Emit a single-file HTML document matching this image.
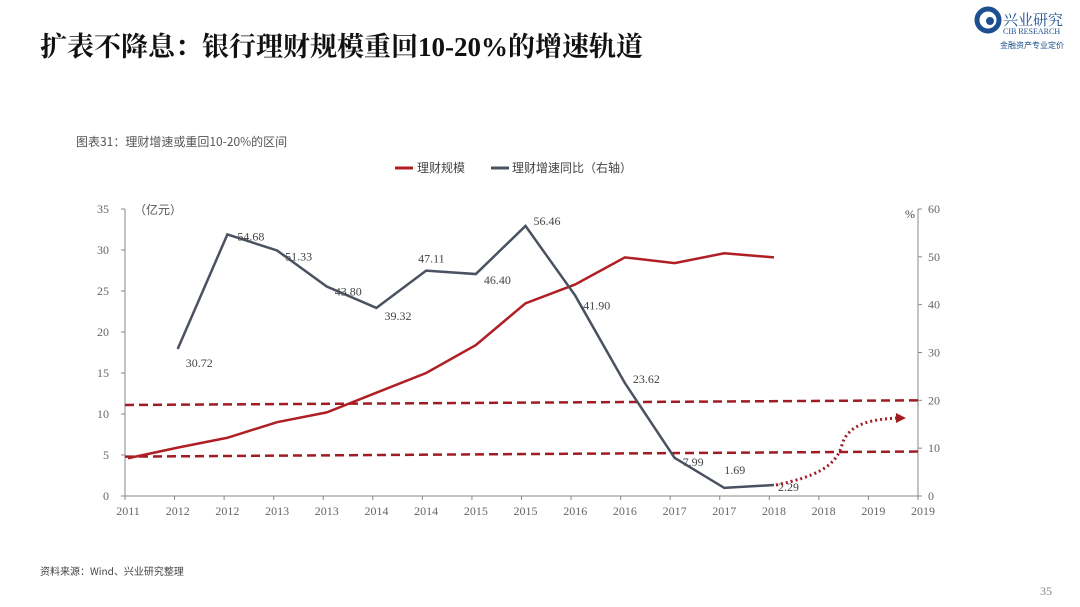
<!DOCTYPE html>
<html><head><meta charset="utf-8"><style>
body{margin:0;width:1080px;height:607px;background:#fff;overflow:hidden;font-family:"Liberation Serif","Noto Serif CJK SC",serif;}
svg{position:absolute;left:0;top:0}
</style></head><body>
<svg id="c" width="1080" height="607">
<text x="40" y="56" font-size="27" font-weight="bold" fill="#111" font-family="'Liberation Serif','Noto Serif CJK SC',serif">扩表不降息：银行理财规模重回10-20%的增速轨道</text>
<g>
<circle cx="988" cy="20" r="11" fill="none" stroke="#1b4f8f" stroke-width="5"/>
<circle cx="990" cy="21" r="4" fill="#1b4f8f"/>
<text x="1003" y="25" font-size="15" fill="#1b4f8f" font-family="'Noto Serif CJK SC',serif">兴业研究</text>
<text x="1003" y="34" font-size="8" fill="#1b4f8f">CIB RESEARCH</text>
<text x="1000" y="48" font-size="8" fill="#1b4f8f" font-family="'Noto Sans CJK SC',sans-serif">金融资产专业定价</text>
</g>
<text x="76" y="146" font-size="12" fill="#555" font-family="'Noto Sans CJK SC',sans-serif">图表31：理财增速或重回10-20%的区间</text>
<g font-size="12" fill="#444" font-family="'Noto Sans CJK SC',sans-serif">
<line x1="395" y1="168" x2="413" y2="168" stroke="#b01f24" stroke-width="3"/><text x="417" y="172">理财规模</text>
<line x1="491" y1="168" x2="509" y2="168" stroke="#4a5160" stroke-width="3"/><text x="512" y="172">理财增速同比（右轴）</text>
</g>
<text x="134" y="214" font-size="12" fill="#555" font-family="'Noto Sans CJK SC',sans-serif">（亿元）</text>
<text x="905" y="218" font-size="12" fill="#444">%</text>
<g id="g"></g>
<text x="40" y="575" font-size="10" fill="#444" font-family="'Noto Sans CJK SC',sans-serif">资料来源：Wind、兴业研究整理</text>
<text x="1040" y="595" font-size="12" fill="#888">35</text>
</svg>
<script>
const categories=["2011","2012","2012","2013","2013","2014","2014","2015","2015","2016","2016","2017","2017","2018","2018","2019","2019"];
const scaleValues=[4.6,5.9,7.1,9.0,10.2,12.6,15.0,18.4,23.5,25.8,29.1,28.4,29.6,29.1];
const growthValues=[null,30.72,54.68,51.33,43.80,39.32,47.11,46.40,56.46,41.90,23.62,7.99,1.69,2.29];
const leftTicks=[0,5,10,15,20,25,30,35];
const rightTicks=[0,10,20,30,40,50,60];
const band=[[11.1,20],[4.8,9.3]];
const NS="http://www.w3.org/2000/svg",g=document.getElementById('g');
const X0=125,X1=918,Y0=496,Y1=209;
const xp=i=>128+i*(X1+5-128)/(categories.length-1);
const yl=v=>Y0-(v/35)*(Y0-Y1);
const yr=v=>Y0-(v/60)*(Y0-Y1);
function mk(t,a){const e=document.createElementNS(NS,t);for(const k in a)e.setAttribute(k,a[k]);g.appendChild(e);return e;}
let e;
e=mk('path',{d:`M${X0} ${Y1}V${Y0}H${X1}V${Y1}`,fill:'none',stroke:'#888','stroke-width':1});


leftTicks.forEach(v=>{mk('line',{x1:X0-4,x2:X0,y1:yl(v),y2:yl(v),stroke:'#888'});
e=mk('text',{x:X0-16,y:yl(v)+4,'font-size':12,fill:'#666','text-anchor':'end'});e.textContent=v;

});
rightTicks.forEach(v=>{mk('line',{x1:X1,x2:X1+4,y1:yr(v),y2:yr(v),stroke:'#888'});
e=mk('text',{x:X1+10,y:yr(v)+4,'font-size':12,fill:'#666'});e.textContent=v;

});
categories.forEach((c,i)=>{const tx=X0+i*(X1-X0)/(categories.length-1);
mk('line',{x1:tx,x2:tx,y1:Y0,y2:Y0+4,stroke:'#888'});
e=mk('text',{x:xp(i),y:Y0+19,'font-size':12,fill:'#666','text-anchor':'middle'});e.textContent=c;

});
band.forEach(b=>{e=mk('line',{x1:X0,x2:X1,y1:yl(b[0]),y2:yr(b[1]),stroke:'#a01c22','stroke-width':2.5,'stroke-dasharray':'9 5'});

});
e=mk('path',{d:scaleValues.map((v,i)=>(i?'L':'M')+xp(i)+' '+yl(v)).join(''),fill:'none',stroke:'#b01f24','stroke-width':2.5});


let pts=growthValues.map((v,i)=>v==null?null:[xp(i),yr(v)]).filter(p=>p);
e=mk('path',{d:pts.map((p,i)=>(i?'L':'M')+p[0]+' '+p[1]).join(''),fill:'none',stroke:'#4a5160','stroke-width':2.5});


const off=[[8,14],[10,2],[8,6],[8,5],[8,8],[-8,-12],[8,6],[8,-5],[8,10],[8,-4],[8,4],[0,-18],[4,2]];
growthValues.forEach((v,i)=>{if(v==null)return;const o=off[i-1];
e=mk('text',{x:xp(i)+o[0],y:yr(v)+o[1]+4,'font-size':12,fill:'#444'});e.textContent=v.toFixed(2);

});
const lx=xp(13),ly=yr(growthValues[13]);
e=mk('path',{d:`M${lx+2} ${ly}C${lx+40} ${ly-8},${lx+62} ${ly-18},${lx+68} ${ly-40}S${lx+100} ${ly-66},${lx+124} ${ly-67}`,fill:'none',stroke:'#a01c22','stroke-width':3,'stroke-dasharray':'2 3'});


e=mk('path',{d:`M${lx+122} ${ly-72}L${lx+132} ${ly-67}L${lx+122} ${ly-62}Z`,fill:'#a01c22'});


</script>
</body></html>
